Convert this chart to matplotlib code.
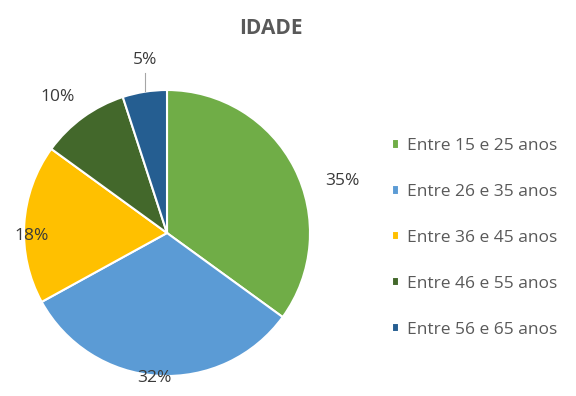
import numpy as np
import matplotlib

matplotlib.use("Agg")
import matplotlib.pyplot as plt  # noqa: E402

# age brackets and their share (%)
categories = ["Entre 15 e 25 anos", "Entre 26 e 35 anos", "Entre 36 e 45 anos",
              "Entre 46 e 55 anos", "Entre 56 e 65 anos"]
shares = [35, 32, 18, 10, 5]
colors = ["#70AD47", "#5B9BD5", "#FFC000", "#43682B", "#255E91"]

# label placement: (radius, angle shift in degrees) per wedge
label_layout = [(1.28, -10.5), (1.02, -1.2), (0.95, 4.9), (1.22, 2.7), (1.22, -1.8)]

W, H = 576, 396
plt.rcParams["font.family"] = ["Open Sans", "DejaVu Sans"]

fig = plt.figure(figsize=(W / 100, H / 100), dpi=100)
cx, cy, r = 167, 233, 143
ax = fig.add_axes([(cx - r) / W, (H - cy - r) / H, 2 * r / W, 2 * r / H])
wedges, _ = ax.pie(shares, colors=colors, startangle=90, counterclock=False,
                   radius=1.0, wedgeprops=dict(edgecolor="white", linewidth=1.5))
ax.set_xlim(-1, 1)
ax.set_ylim(-1, 1)
ax.set_aspect("equal")
ax.axis("off")

for w, val, (rad, shift) in zip(wedges, shares, label_layout):
    mid = np.deg2rad((w.theta1 + w.theta2) / 2 + shift)
    x, y = rad * np.cos(mid), rad * np.sin(mid)
    ax.text(x, y, f"{val}%", ha="center", va="center", fontsize=12.5,
            color="#3a3a3a", clip_on=False)
    if val == 5:
        # leader line from the small slice label down to the rim
        ax.plot([x, x], [y - 0.09, 0.995], color="#a6a6a6", lw=0.8, clip_on=False)

fig.text(271 / W, 1 - 29 / H, "IDADE", ha="center", va="center", fontsize=15,
         fontweight="bold", color="#595959")

leg = fig.legend(wedges, categories, loc="center left", frameon=False,
                 bbox_to_anchor=(376 / W, 1 - 238 / H), fontsize=12.5,
                 handlelength=0.45, handleheight=0.45, handletextpad=0.45,
                 labelspacing=1.72, labelcolor="#595959")

fig.savefig("out.png", dpi=100, facecolor="white")
